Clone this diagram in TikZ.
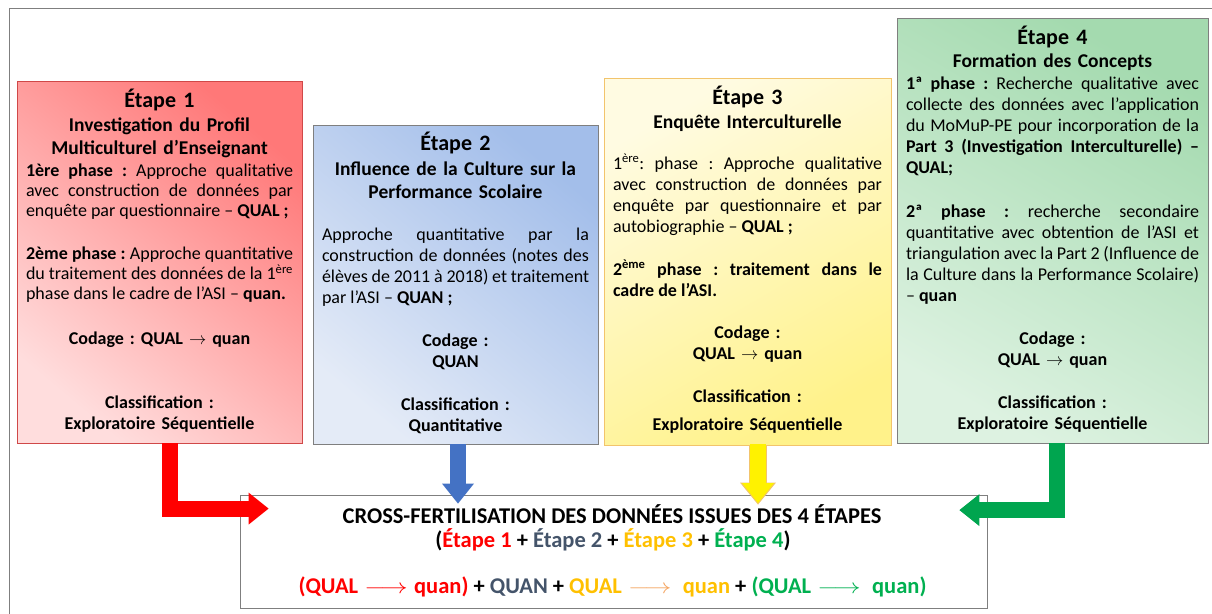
\documentclass[tikz,border=0pt]{standalone}
\usepackage{fontspec}
\setmainfont{Carlito}
\usepackage{xcolor}
\usetikzlibrary{arrows.meta}
\definecolor{rougeH}{HTML}{FF7878}
\definecolor{rougeB}{HTML}{FFDDDD}
\definecolor{rougeT}{HTML}{D04848}
\definecolor{bleuH}{HTML}{A3BEEA}
\definecolor{bleuB}{HTML}{E4EBF7}
\definecolor{bleuF}{HTML}{4472C4}
\definecolor{jauneH}{HTML}{FFFBE2}
\definecolor{jauneB}{HTML}{FFF28A}
\definecolor{jauneT}{HTML}{F2C46C}
\definecolor{vertH}{HTML}{A4DAAF}
\definecolor{vertB}{HTML}{DDF2E1}
\definecolor{vertF}{HTML}{00A54F}
\definecolor{ardoise}{HTML}{44546A}
\definecolor{ocre}{HTML}{FFC000}
\definecolor{vertT}{HTML}{00B050}
\definecolor{orangeF}{HTML}{F4A460}
\definecolor{cadre}{HTML}{7F7F7F}
\newcommand{\longfl}{\scalebox{1.3}[1]{$\longrightarrow$}}
\hyphenpenalty=10000
\exhyphenpenalty=10000
\tolerance=9999
\frenchspacing
\begin{document}
\begin{tikzpicture}[x=1pt,y=-1pt,
    boite/.style={inner sep=0pt,line width=0.8pt},
    titre/.style={anchor=base,inner sep=0pt,text width=280pt,align=center,font=\fontsize{22}{26}\selectfont\bfseries},
    soustitre/.style={anchor=base,inner sep=0pt,text width=300pt,align=center,font=\fontsize{19.5}{23.5}\selectfont\bfseries},
    corps/.style={anchor=base,inner sep=0pt,align=justify,font=\fontsize{18}{21.2}\selectfont},
    gras/.style={anchor=base,inner sep=0pt,text width=280pt,align=center,font=\fontsize{18}{21}\selectfont\bfseries},
    bas/.style={anchor=base,inner sep=0pt,font=\fontsize{22.5}{26}\selectfont\bfseries},
    fleche/.style={line width=16pt,-{Triangle[length=20pt 0 0,width=32pt 0 0,line width=0pt 0 0]}}]
    \useasboundingbox (0,0) rectangle (1212,613);
    \draw[cadre,line width=0.8pt] (9,620) |- (1220,8);

    \node[boite,draw=rougeT,top color=rougeH,bottom color=rougeB,shading angle=-40,minimum width=285,minimum height=362] (e1) at (159.5,262) {};
    \node[titre] (t1) at (159.5,107) {Étape 1};
    \node[soustitre] (s1) at (159.5,131) {Investigation du Profil\\Multiculturel d’Enseignant};
    \node[corps,text width=267,font=\fontsize{18}{20.3}\selectfont] (p1a) at (159.5,176) {\textbf{1ère phase :} Approche qualitative avec construction de données par enquête par questionnaire – \textbf{QUAL~;}};
    \node[corps,text width=267,font=\fontsize{18}{20.3}\selectfont] (p1b) at (159.5,259) {\textbf{2ème phase :} Approche quantitative du traitement des données de la 1\textsuperscript{ère} phase dans le cadre de l’ASI – \textbf{quan.}};
    \node[gras] (c1) at (159.5,344) {Codage : QUAL $\rightarrow$ quan};
    \node[gras] (k1) at (159.5,408) {Classification :\\Exploratoire Séquentielle};

    \node[boite,draw=cadre,top color=bleuH,bottom color=bleuB,shading angle=-40,minimum width=285,minimum height=319] (e2) at (455.5,284.5) {};
    \node[titre] (t2) at (455.5,150) {Étape 2};
    \node[soustitre] (s2) at (455.5,175) {Influence de la Culture sur la\\Performance Scolaire};
    \node[corps,text width=267] (p2) at (455.5,240) {Approche quantitative par la construction de données (notes des élèves de 2011 à 2018) et traitement par l’ASI – \textbf{QUAN~;}};
    \node[gras] (c2) at (455.5,346) {Codage :\\QUAN};
    \node[gras] (k2) at (455.5,410) {Classification :\\Quantitative};

    \node[boite,draw=jauneT,top color=jauneH,bottom color=jauneB,shading angle=30,minimum width=287,minimum height=367] (e3) at (747.5,261.5) {};
    \node[titre] (t3) at (747.5,104) {Étape 3};
    \node[soustitre] (s3) at (747.5,128) {Enquête Interculturelle};
    \node[corps,text width=269] (p3a) at (747.5,169) {1\textsuperscript{ère}: phase : Approche qualitative avec construction de données par enquête par questionnaire et par autobiographie – \textbf{QUAL~;}};
    \node[corps,text width=269] (p3b) at (747.5,275) {\textbf{2\textsuperscript{ème} phase : traitement dans le\linebreak cadre de l’ASI.}};
    \node[gras] (c3) at (747.5,338) {Codage :\\QUAL $\rightarrow$ quan};
    \node[gras] (k3) at (747.5,402) {Classification :\\[7pt]Exploratoire Séquentielle};

    \node[boite,draw=cadre,top color=vertH,bottom color=vertB,shading angle=-30,minimum width=311,minimum height=425] (e4) at (1052.5,230.5) {};
    \node[titre] (t4) at (1052.5,44) {Étape 4};
    \node[soustitre] (s4) at (1052.5,67) {Formation des Concepts};
    \node[corps,text width=293] (p4a) at (1052.5,89) {\textbf{1ª phase :} Recherche qualitative avec\linebreak collecte des données avec l’application\linebreak du MoMuP-PE pour incorporation de la\linebreak \textbf{Part 3 (Investigation Interculturelle) –\linebreak QUAL;}};
    \node[corps,text width=293] (p4b) at (1052.5,217) {\textbf{2ª phase :} recherche secondaire quantitative avec obtention de l’ASI et triangulation avec la Part 2 (Influence de la Culture dans la Performance Scolaire) – \textbf{quan}};
    \node[gras] (c4) at (1052.5,344) {Codage :\\QUAL $\rightarrow$ quan};
    \node[gras] (k4) at (1052.5,408) {Classification :\\Exploratoire Séquentielle};

    \node[boite,draw=cadre,minimum width=747,minimum height=113] (cross) at (613.5,551.5) {};
    \node[bas] (x1) at (612,523) {CROSS-FERTILISATION DES DONNÉES ISSUES DES 4 ÉTAPES};
    \node[bas] (x2) at (613,547) {(\textcolor{red}{Étape 1} + \textcolor{ardoise}{Étape 2} + \textcolor{ocre}{Étape 3} + \textcolor{vertT}{Étape 4})};
    \node[bas] (x3) at (612.5,593) {\textcolor{red}{(QUAL\;\longfl\;quan)} + \textcolor{ardoise}{QUAN} + \textcolor{ocre}{QUAL\;\textcolor{orangeF}{\longfl}\enspace quan} + \textcolor{vertT}{(QUAL\;\longfl\enspace quan)}};

    \draw[fleche,red] ([xshift=10.5pt]e1.south) |- ([shift={(29,14)}]cross.north west);
    \draw[fleche,bleuF] ([xshift=2.5pt]e2.south) -- ([xshift=2.5pt,yshift=-9pt]e2.south |- cross.north);
    \draw[fleche,jauneT,line width=18pt,-{Triangle[length=22pt 0 0,width=36pt 0 0,line width=0pt 0 0]}] ([xshift=10.5pt]e3.south) -- ([xshift=10.5pt,yshift=-10pt]e3.south |- cross.north);
    \draw[fleche,yellow,shorten >=1.5pt] ([xshift=10.5pt,yshift=1pt]e3.south) -- ([xshift=10.5pt,yshift=-10pt]e3.south |- cross.north);
    \draw[fleche,vertF] ([xshift=4.5pt]e4.south) |- ([shift={(-28,15.5)}]cross.north east);
\end{tikzpicture}
\end{document}
